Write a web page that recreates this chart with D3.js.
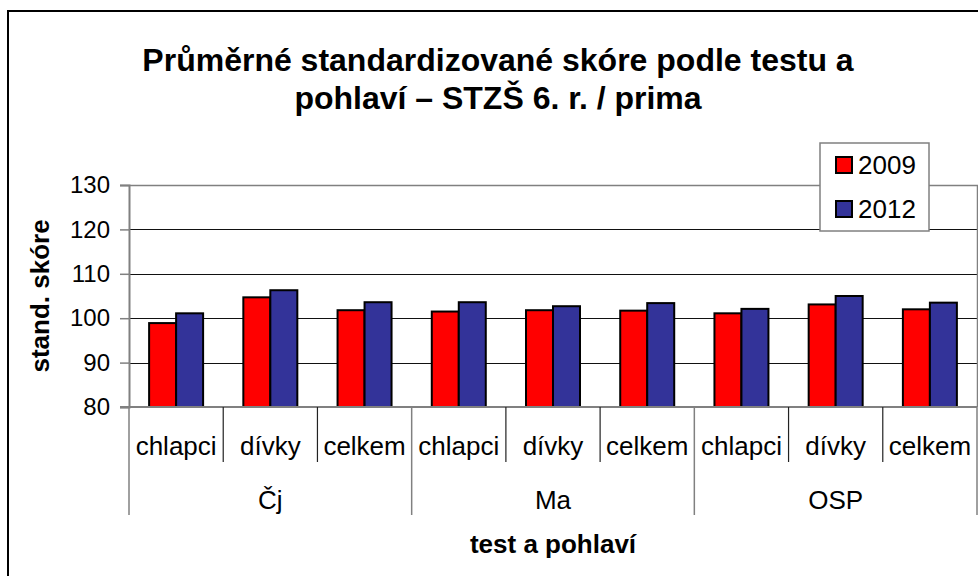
<!DOCTYPE html>
<html>
<head>
<meta charset="utf-8">
<script src="https://d3js.org/d3.v7.min.js"></script>
<style>
  body { margin: 0; background: #fff; }
  text { font-family: "Liberation Sans", Arial, sans-serif; }
</style>
</head>
<body>
<div id="viz"></div>
<script>
// data
var tests = ["Čj", "Ma", "OSP"];
var genders = ["chlapci", "dívky", "celkem"];
var years = ["2009", "2012"];
var values2009 = [98.9, 104.7, 101.8, 101.5, 101.8, 101.7, 101.1, 103.1, 102.0];
var values2012 = [101.1, 106.3, 103.6, 103.6, 102.7, 103.4, 102.1, 105.0, 103.5];
var yTicks = [80, 90, 100, 110, 120, 130];
var colors = ["#ff0000", "#333399"];

var W = 978, H = 576;
var pLeft = 129, pRight = 977, pTop = 185, pBottom = 407;

// one entry per category (test x gender)
var cats = [];
tests.forEach(function(t, i) {
  genders.forEach(function(g, j) {
    var k = i * 3 + j;
    cats.push({ id: k, test: t, gender: g, vals: [values2009[k], values2012[k]] });
  });
});

var svg = d3.select("#viz").append("svg")
  .attr("width", W).attr("height", H);

// outer chart border (runs off right/bottom edge in the reference)
svg.append("rect")
  .attr("x", 8).attr("y", 11).attr("width", W + 10).attr("height", H + 10)
  .attr("fill", "#fff").attr("stroke", "#000").attr("stroke-width", 2);

var x0 = d3.scaleBand().domain(cats.map(function(d) { return d.id; }))
  .range([pLeft, pRight]).padding(0);
var x1 = d3.scaleBand().domain(years)
  .range([0, x0.bandwidth()]).paddingInner(0).paddingOuter(0.745);
var y = d3.scaleLinear().domain([80, 130]).range([pBottom, pTop]);

// gridlines
svg.append("g").selectAll("line")
  .data(yTicks.filter(function(v) { return v > 80 && v < 130; }))
  .enter().append("line")
  .attr("x1", pLeft).attr("x2", pRight)
  .attr("y1", function(d) { return Math.round(y(d)) + 0.5; })
  .attr("y2", function(d) { return Math.round(y(d)) + 0.5; })
  .attr("stroke", "#111").attr("stroke-width", 1);

// plot area border top/right
svg.append("path")
  .attr("d", "M" + pLeft + "," + (pTop + 0.5) + "H" + (pRight + 0.5) + "V" + pBottom)
  .attr("fill", "none").attr("stroke", "#808080").attr("stroke-width", 1.5);

// y axis
var yAxis = svg.append("g")
  .attr("transform", "translate(" + pLeft + ",0)")
  .call(d3.axisLeft(y).tickValues(yTicks).tickSize(9).tickPadding(10));
yAxis.select(".domain").attr("stroke", "#808080").attr("stroke-width", 2);
yAxis.selectAll(".tick line").attr("stroke", "#808080").attr("stroke-width", 1.5);
yAxis.selectAll(".tick text")
  .attr("font-size", 24).attr("fill", "#000")
  .style("font-family", "Liberation Sans, Arial, sans-serif");

// bars
var groups = svg.append("g").selectAll("g")
  .data(cats).enter().append("g")
  .attr("transform", function(d) { return "translate(" + x0(d.id) + ",0)"; });
groups.selectAll("rect")
  .data(function(d) { return d.vals.map(function(v, i) { return { year: years[i], v: v, i: i }; }); })
  .enter().append("rect")
  .attr("x", function(d) { return x1(d.year); })
  .attr("y", function(d) { return y(d.v); })
  .attr("width", x1.bandwidth())
  .attr("height", function(d) { return pBottom - y(d.v); })
  .attr("fill", function(d) { return colors[d.i]; })
  .attr("stroke", "#000").attr("stroke-width", 2);

// x axis line
svg.append("line")
  .attr("x1", pLeft - 9).attr("x2", pRight)
  .attr("y1", pBottom).attr("y2", pBottom)
  .attr("stroke", "#808080").attr("stroke-width", 2);

// category dividers (inner level)
svg.append("g").selectAll("line")
  .data(cats.filter(function(d) { return d.id % 3 !== 0; }))
  .enter().append("line")
  .attr("x1", function(d) { return x0(d.id); })
  .attr("x2", function(d) { return x0(d.id); })
  .attr("y1", pBottom).attr("y2", pBottom + 55)
  .attr("stroke", "#222").attr("stroke-width", 1.2);

// group dividers (outer level)
var groupEdges = [0, 3, 6, 9];
svg.append("g").selectAll("line")
  .data(groupEdges).enter().append("line")
  .attr("x1", function(d) { return d < 9 ? x0(d) : pRight; })
  .attr("x2", function(d) { return d < 9 ? x0(d) : pRight; })
  .attr("y1", pBottom).attr("y2", pBottom + 108)
  .attr("stroke", "#808080").attr("stroke-width", 1.5);

// category labels
svg.append("g").selectAll("text")
  .data(cats).enter().append("text")
  .attr("x", function(d) { return x0(d.id) + x0.bandwidth() / 2; })
  .attr("y", pBottom + 48)
  .attr("text-anchor", "middle")
  .attr("font-size", 26)
  .text(function(d) { return d.gender; });

// test labels
svg.append("g").selectAll("text")
  .data(tests).enter().append("text")
  .attr("x", function(d, i) { return (x0(i * 3) + x0(i * 3 + 2) + x0.bandwidth()) / 2; })
  .attr("y", pBottom + 102)
  .attr("text-anchor", "middle")
  .attr("font-size", 26)
  .text(function(d) { return d; });

// axis titles
svg.append("text")
  .attr("x", (pLeft + pRight) / 2).attr("y", 553)
  .attr("text-anchor", "middle")
  .attr("font-size", 26).attr("font-weight", "bold")
  .text("test a pohlaví");

svg.append("text")
  .attr("transform", "translate(49," + (pTop + pBottom) / 2 + ") rotate(-90)")
  .attr("text-anchor", "middle")
  .attr("font-size", 26).attr("font-weight", "bold")
  .text("stand. skóre");

// title
var title = svg.append("text")
  .attr("text-anchor", "middle")
  .attr("font-size", 32).attr("font-weight", "bold");
title.append("tspan").attr("x", 498).attr("y", 71)
  .text("Průměrné standardizované skóre podle testu a");
title.append("tspan").attr("x", 498).attr("y", 109)
  .text("pohlaví – STZŠ 6. r. / prima");

// legend
var lg = svg.append("g").attr("transform", "translate(820,143)");
lg.append("rect").attr("width", 109).attr("height", 88)
  .attr("fill", "#fff").attr("stroke", "#808080").attr("stroke-width", 1.5);
var li = lg.selectAll("g.item").data(years).enter().append("g")
  .attr("class", "item")
  .attr("transform", function(d, i) { return "translate(16," + (14 + i * 44) + ")"; });
li.append("rect").attr("width", 16).attr("height", 16)
  .attr("fill", function(d, i) { return colors[i]; })
  .attr("stroke", "#000").attr("stroke-width", 2);
li.append("text").attr("x", 22).attr("y", 17)
  .attr("font-size", 26)
  .text(function(d) { return d; });
</script>
</body>
</html>
